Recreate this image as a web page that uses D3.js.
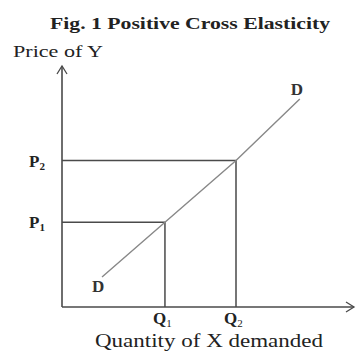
<!doctype html>
<html lang="en">
<head>
<meta charset="UTF-8">
<title>Fig. 1 Positive Cross Elasticity</title>
<style>
  body { margin: 0; background: #fff; }
  text { font-family: "Liberation Serif", "DejaVu Serif", serif; fill: #222; }
</style>
</head>
<body>
<svg></svg>
<script src="https://cdnjs.cloudflare.com/ajax/libs/d3/7.8.5/d3.min.js"></script>
<script>
const width = 359;
const height = 352;

// values (arbitrary units, 0..10)
const quantities = [3.55, 6.0];
const prices = [3.5, 6.05];
const qLabels = ["Q", "Q"];
const pLabels = ["P", "P"];
const subs = ["1", "2"];
const demand = [[1.38, 1.24], [3.55, 3.5], [6.0, 6.05], [8.2, 8.6]];

const svg = d3.select("svg").attr("width", width).attr("height", height);

const x = d3.scaleLinear().domain([0, 10]).range([62, 352]);
const y = d3.scaleLinear().domain([0, 10]).range([307, 65]);

// title
svg.append("text")
   .attr("x", 50).attr("y", 29)
   .attr("textLength", 280).attr("lengthAdjust", "spacingAndGlyphs")
   .style("font-size", "17px").style("font-weight", "bold")
   .text("Fig. 1 Positive Cross Elasticity");

svg.append("text")
   .attr("x", 13).attr("y", 57)
   .attr("textLength", 90).attr("lengthAdjust", "spacingAndGlyphs")
   .style("font-size", "16px")
   .text("Price of Y");

// axes
const axisColor = "#4a4a4a";
svg.append("line")
   .attr("x1", x(0)).attr("y1", y(0)).attr("x2", x(0)).attr("y2", y(10) + 1)
   .style("stroke", axisColor).style("stroke-width", 1.6);
svg.append("path")
   .attr("d", `M${x(0) - 5},${y(10) + 9}L${x(0)},${y(10) + 1}L${x(0) + 5},${y(10) + 9}`)
   .style("fill", "none").style("stroke", axisColor).style("stroke-width", 1.3);

svg.append("line")
   .attr("x1", x(0)).attr("y1", y(0)).attr("x2", x(10) + 2).attr("y2", y(0))
   .style("stroke", axisColor).style("stroke-width", 1.6);
svg.append("path")
   .attr("d", `M${x(10) - 6},${y(0) - 5}L${x(10) + 2},${y(0)}L${x(10) - 6},${y(0) + 5}`)
   .style("fill", "none").style("stroke", axisColor).style("stroke-width", 1.3);

// guide lines from price to quantity
const guides = svg.append("g");
quantities.forEach((q, i) => {
  guides.append("path")
        .attr("d", d3.line()([[x(0), y(prices[i])], [x(q), y(prices[i])], [x(q), y(0)]]))
        .style("fill", "none").style("stroke", axisColor).style("stroke-width", 1.5);
});

// demand line
svg.append("path")
   .datum(demand)
   .attr("d", d3.line().x(d => x(d[0])).y(d => y(d[1])))
   .style("fill", "none").style("stroke", "#888").style("stroke-width", 1.4);

// D labels
svg.append("text")
   .attr("x", x(demand[0][0]) - 4).attr("y", y(demand[0][1]) + 15)
   .attr("text-anchor", "middle")
   .style("font-size", "17px").style("font-weight", "bold").style("fill", "#333")
   .text("D");
svg.append("text")
   .attr("x", x(demand[3][0]) - 3).attr("y", y(demand[3][1]) - 4)
   .attr("text-anchor", "middle")
   .style("font-size", "17px").style("font-weight", "bold").style("fill", "#333")
   .text("D");

// price labels
prices.forEach((p, i) => {
  const t = svg.append("text")
     .attr("x", 29).attr("y", y(p) + 6)
     .style("font-size", "17px").style("font-weight", "bold");
  t.append("tspan").text(pLabels[i]);
  t.append("tspan").attr("dy", 3).style("font-size", "11px").text(subs[i]);
});

// quantity labels
quantities.forEach((q, i) => {
  const t = svg.append("text")
     .attr("x", x(q) - 12).attr("y", y(0) + 17)
     .style("font-size", "17px").style("font-weight", "bold");
  t.append("tspan").text(qLabels[i]);
  t.append("tspan").attr("dy", 3).style("font-size", "11px").style("font-weight", "normal").text(subs[i]);
});

svg.append("text")
   .attr("x", 95).attr("y", 347)
   .attr("textLength", 228).attr("lengthAdjust", "spacingAndGlyphs")
   .style("font-size", "19px")
   .text("Quantity of X demanded");
</script>
</body>
</html>
